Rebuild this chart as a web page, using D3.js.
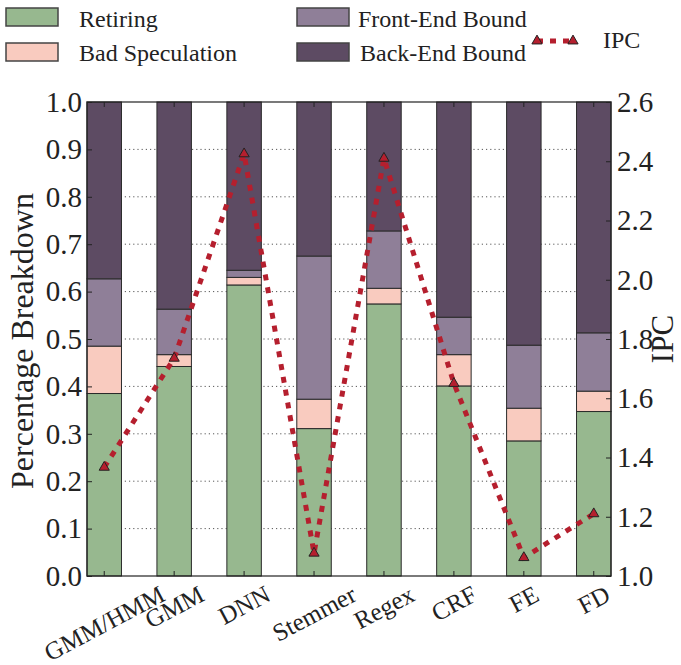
<!DOCTYPE html>
<html>
<head>
<meta charset="utf-8">
<script src="https://cdn.jsdelivr.net/npm/d3@7"></script>
<style>
  html, body { margin: 0; padding: 0; background: #fff; }
  svg { display: block; }
  text { font-family: "Liberation Serif", "Times New Roman", Times, "DejaVu Serif", serif; fill: #222; }
</style>
</head>
<body>
<svg id="chart" width="681" height="665"></svg>
<script>
// ---- data ----
const categories = ["GMM/HMM", "GMM", "DNN", "Stemmer", "Regex", "CRF", "FE", "FD"];
const retiring   = [0.385, 0.442, 0.614, 0.311, 0.574, 0.401, 0.285, 0.347];
const badSpec    = [0.100, 0.025, 0.016, 0.062, 0.033, 0.066, 0.069, 0.043];
const frontEnd   = [0.142, 0.096, 0.015, 0.302, 0.121, 0.079, 0.133, 0.123];
const backEnd    = [0.373, 0.437, 0.355, 0.325, 0.272, 0.454, 0.513, 0.487];
const ipc        = [1.367, 1.735, 2.425, 1.077, 2.410, 1.650, 1.062, 1.210];
const seriesNames = ["Retiring", "Bad Speculation", "Front-End Bound", "Back-End Bound"];
const leftTicks  = [0.0, 0.1, 0.2, 0.3, 0.4, 0.5, 0.6, 0.7, 0.8, 0.9, 1.0];
const rightTicks = [1.0, 1.2, 1.4, 1.6, 1.8, 2.0, 2.2, 2.4, 2.6];
const colors = ["#97b88f", "#f9cbbf", "#8f7f98", "#5d4b63"];
const lineColor = "#b51f2e";

const rows = categories.map((c, i) => ({
  cat: c,
  "Retiring": retiring[i],
  "Bad Speculation": badSpec[i],
  "Front-End Bound": frontEnd[i],
  "Back-End Bound": backEnd[i],
  ipc: ipc[i]
}));

const svg = d3.select("#chart");
const L = 87, R = 611, T = 102, B = 576;
const FONT = '"Liberation Serif", "Times New Roman", Times, serif';

const x = d3.scaleBand().domain(categories).range([L, R]).paddingInner(0.507).paddingOuter(0);
const y = d3.scaleLinear().domain([0, 1]).range([B, T]);
const y2 = d3.scaleLinear().domain([1.0, 2.6]).range([B, T]);

// grid
svg.append("g").selectAll("line")
  .data(leftTicks.filter(t => t > 0 && t < 1))
  .join("line")
  .attr("x1", L).attr("x2", R)
  .attr("y1", d => y(d)).attr("y2", d => y(d))
  .attr("stroke", "#444").attr("stroke-width", 0.9)
  .attr("stroke-dasharray", "1.2,3");

// stacked bars
const stack = d3.stack().keys(seriesNames);
const stacked = stack(rows);
svg.append("g").selectAll("g")
  .data(stacked)
  .join("g")
  .attr("fill", (d, i) => colors[i])
  .selectAll("rect")
  .data(d => d)
  .join("rect")
  .attr("x", d => x(d.data.cat))
  .attr("width", x.bandwidth())
  .attr("y", d => y(d[1]))
  .attr("height", d => y(d[0]) - y(d[1]))
  .attr("stroke", "#2a2a2a")
  .attr("stroke-width", 1);

// frame
svg.append("rect")
  .attr("x", L).attr("y", T).attr("width", R - L).attr("height", B - T)
  .attr("fill", "none").attr("stroke", "#222").attr("stroke-width", 1.2);

// axes
const fmt = d3.format(".1f");
const axL = svg.append("g").attr("transform", `translate(${L},0)`)
  .call(d3.axisLeft(y).tickValues(leftTicks).tickFormat(fmt).tickSizeInner(-5).tickSizeOuter(0).tickPadding(5));
const axR = svg.append("g").attr("transform", `translate(${R},0)`)
  .call(d3.axisRight(y2).tickValues(rightTicks).tickFormat(fmt).tickSizeInner(-5).tickSizeOuter(0).tickPadding(6));
const axB = svg.append("g").attr("transform", `translate(0,${B})`)
  .call(d3.axisBottom(x).tickSizeInner(-5).tickSizeOuter(0).tickFormat(""));
const axT = svg.append("g").attr("transform", `translate(0,${T})`)
  .call(d3.axisTop(x).tickSizeInner(-5).tickSizeOuter(0).tickFormat(""));
[axL, axR, axB, axT].forEach(a => {
  a.attr("font-family", FONT);
  a.select(".domain").remove();
  a.selectAll(".tick line").attr("stroke", "#222").attr("stroke-width", 1);
  a.selectAll(".tick text").attr("font-size", 29).attr("fill", "#222");
});

// x tick labels (rotated, bbox-centred on tick)
const theta = 28, rad = theta * Math.PI / 180, fs = 25;
const xl = svg.append("g");
categories.forEach(c => {
  const t = xl.append("text")
    .attr("font-size", fs)
    .attr("text-anchor", "middle")
    .attr("dy", "0.35em")
    .text(c);
  const len = t.node().getComputedTextLength();
  const H = len * Math.sin(rad) + fs * Math.cos(rad);
  const cx = x(c) + x.bandwidth() / 2;
  const cy = B + 5 + H / 2;
  t.attr("transform", `translate(${cx},${cy}) rotate(${-theta})`);
});

// IPC line
const cxf = c => x(c) + x.bandwidth() / 2;
const line = d3.line().x(d => cxf(d.cat)).y(d => y2(d.ipc));
svg.append("path")
  .datum(rows)
  .attr("d", line)
  .attr("fill", "none")
  .attr("stroke", lineColor)
  .attr("stroke-width", 5)
  .attr("stroke-dasharray", "6,7");
const tri = d3.symbol().type(d3.symbolTriangle).size(45);
svg.append("g").selectAll("path")
  .data(rows)
  .join("path")
  .attr("d", tri)
  .attr("transform", d => `translate(${cxf(d.cat)},${y2(d.ipc)})`)
  .attr("fill", lineColor)
  .attr("stroke", "#222").attr("stroke-width", 1);

// axis titles
svg.append("text")
  .attr("transform", `translate(33,${(T + B) / 2 + 2}) rotate(-90)`)
  .attr("text-anchor", "middle")
  .attr("font-size", 32)
  .text("Percentage Breakdown");
svg.append("text")
  .attr("transform", `translate(673,${(T + B) / 2}) rotate(-90)`)
  .attr("text-anchor", "middle")
  .attr("font-size", 31)
  .text("IPC");

// legend
const leg = svg.append("g");
const legItems = [
  { name: seriesNames[0], color: colors[0], bx: 6,   by: 8,  tx: 79,  ty: 27 },
  { name: seriesNames[1], color: colors[1], bx: 6,   by: 43, tx: 79,  ty: 61 },
  { name: seriesNames[2], color: colors[2], bx: 297, by: 8,  tx: 358, ty: 27 },
  { name: seriesNames[3], color: colors[3], bx: 297, by: 43, tx: 360, ty: 61 }
];
legItems.forEach(it => {
  leg.append("rect")
    .attr("x", it.bx).attr("y", it.by).attr("width", 52).attr("height", 18)
    .attr("fill", it.color).attr("stroke", "#444").attr("stroke-width", 1.5);
  leg.append("text").attr("x", it.tx).attr("y", it.ty).attr("font-size", 24).text(it.name);
});
leg.append("line")
  .attr("x1", 537).attr("x2", 573).attr("y1", 41).attr("y2", 41)
  .attr("stroke", lineColor).attr("stroke-width", 5).attr("stroke-dasharray", "6,7");
[537, 573].forEach(px => {
  leg.append("path").attr("d", tri).attr("transform", `translate(${px},41)`)
    .attr("fill", lineColor).attr("stroke", "#222").attr("stroke-width", 1);
});
leg.append("text").attr("x", 603).attr("y", 48).attr("font-size", 24).text("IPC");
</script>
</body>
</html>
